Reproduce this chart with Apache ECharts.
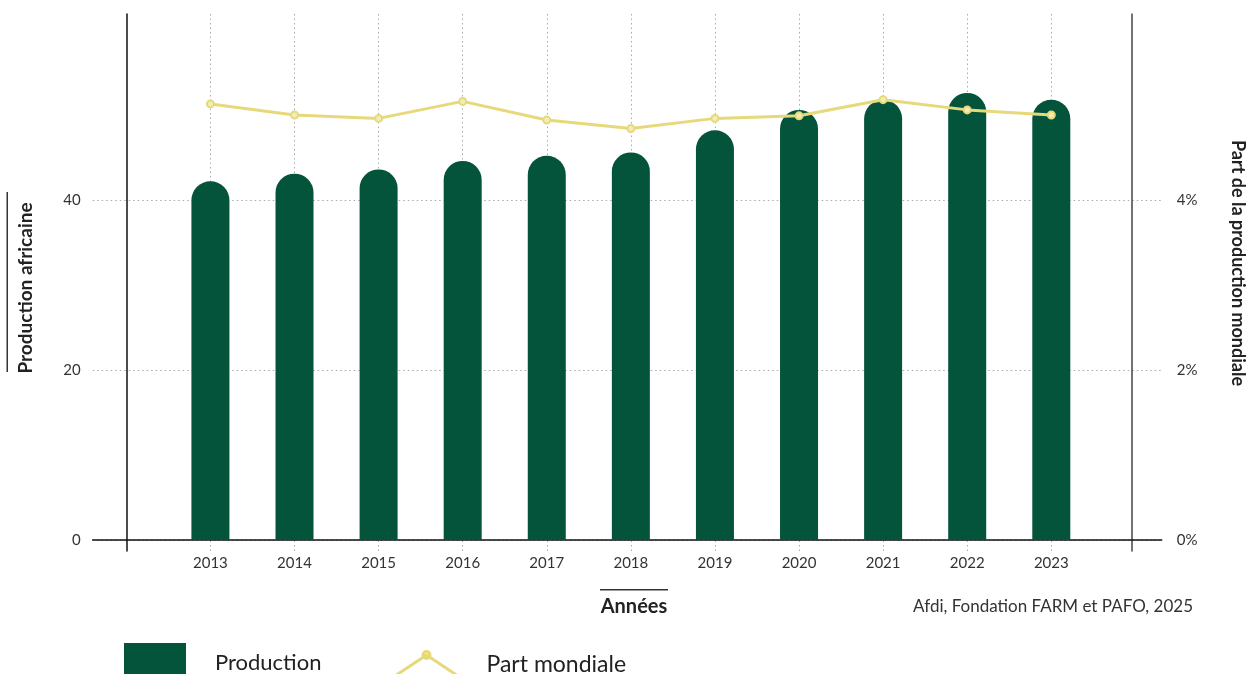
<!DOCTYPE html>
<html>
<head>
<meta charset="utf-8">
<script src="https://cdn.jsdelivr.net/npm/echarts@6/dist/echarts.min.js"></script>
<style>
html,body{margin:0;padding:0;background:#fff;}
#chart{width:1254px;height:674px;}
</style>
</head>
<body>
<div id="chart"></div>
<script>
// ---- data ----
const years = [2013, 2014, 2015, 2016, 2017, 2018, 2019, 2020, 2021, 2022, 2023];
const production = [42.2, 43.1, 43.6, 44.6, 45.2, 45.6, 48.2, 50.6, 51.8, 52.6, 51.8];
const worldShare = [5.13, 5.00, 4.96, 5.16, 4.94, 4.84, 4.96, 4.99, 5.18, 5.06, 5.00];
const leftTicks = [0, 20, 40];
const rightTicks = [0, 2, 4];

const GREEN = '#04533b';
const YELLOW = '#e6d97a';
const FONT = 'Lato';
const DOT = [1.5, 3];

const chart = echarts.init(document.getElementById('chart'), null, {renderer: 'canvas'});

const option = {
  animation: false,
  backgroundColor: '#ffffff',
  textStyle: {fontFamily: FONT},
  grid: {left: 92.7, right: 92.3, top: 14, bottom: 123, containLabel: false},
  xAxis: {
    type: 'value',
    min: 2011.6,
    max: 2024.313,
    axisLine: {show: true, onZero: true, lineStyle: {color: '#111', width: 1.5}},
    axisTick: {show: false, customValues: years},
    axisLabel: {customValues: years, formatter: v => String(v), color: '#333', fontSize: 15, fontFamily: FONT, margin: 5},
    splitLine: {show: true, lineStyle: {color: '#aaa', type: DOT, width: 1}}
  },
  yAxis: [
    {
      type: 'value',
      position: 'left',
      min: -1.294,
      max: 61.88,
      offset: -34,
      axisLine: {show: true, onZero: false, lineStyle: {color: '#111', width: 1.5}},
      axisTick: {show: false, customValues: leftTicks},
      axisLabel: {customValues: leftTicks, color: '#333', fontSize: 15, fontFamily: FONT, margin: 46},
      splitLine: {show: true, lineStyle: {color: '#aaa', type: DOT, width: 1}}
    },
    {
      type: 'value',
      position: 'right',
      min: -0.1294,
      max: 6.188,
      offset: -30,
      axisLine: {show: true, onZero: false, lineStyle: {color: '#444', width: 1.5}},
      axisTick: {show: false, customValues: rightTicks},
      axisLabel: {customValues: rightTicks, formatter: '{value}%', color: '#333', fontSize: 15, fontFamily: FONT, margin: 45},
      splitLine: {show: false}
    }
  ],
  legend: [
    {
      left: 124, top: 643, padding: 0,
      itemWidth: 62, itemHeight: 40,
      data: [{name: 'Production', icon: 'rect'}],
      textStyle: {fontSize: 22, color: '#222', fontFamily: FONT, padding: [0, 0, 0, 24]}
    },
    {
      left: 392, top: 650, padding: 0,
      itemWidth: 66, itemHeight: 26,
      data: [{
        name: 'Part mondiale',
        icon: 'path://M0,26 L33,4 L66,26 M36.5,4 A3.5,3.5 0 1,1 29.5,4 A3.5,3.5 0 1,1 36.5,4',
        itemStyle: {color: 'transparent', borderColor: YELLOW, borderWidth: 3}
      }],
      textStyle: {fontSize: 23, color: '#222', fontFamily: FONT, padding: [0, 0, 0, 22]}
    }
  ],
  series: [
    {
      name: 'Production',
      type: 'bar',
      yAxisIndex: 0,
      barWidth: 38,
      data: years.map((y, i) => [y, production[i]]),
      itemStyle: {color: GREEN, borderRadius: [19, 19, 0, 0]},
      z: 2
    },
    {
      name: 'Part mondiale',
      type: 'line',
      yAxisIndex: 1,
      data: years.map((y, i) => [y, worldShare[i]]),
      lineStyle: {color: YELLOW, width: 3},
      itemStyle: {color: '#f3ecb8', borderColor: YELLOW, borderWidth: 2},
      symbol: 'circle',
      symbolSize: 7,
      showSymbol: true,
      z: 3
    }
  ],
  graphic: [
    {type: 'rect', left: 6.5, top: 192, shape: {width: 1.5, height: 180}, style: {fill: '#333'}},
    {type: 'text', x: 26, y: 288, rotation: Math.PI / 2,
      style: {text: 'Production africaine', font: 'bold 19px Lato', fill: '#222', align: 'center', verticalAlign: 'middle'}},
    {type: 'text', x: 1238, y: 263, rotation: -Math.PI / 2,
      style: {text: 'Part de la production mondiale', font: 'bold 18px Lato', fill: '#222', align: 'center', verticalAlign: 'middle'}},
    {type: 'rect', left: 600, top: 589, shape: {width: 68, height: 1.5}, style: {fill: '#333'}},
    {type: 'text', x: 634, y: 607,
      style: {text: 'Années', font: 'bold 20px Lato', fill: '#222', align: 'center', verticalAlign: 'middle'}},
    {type: 'text', x: 1193, y: 607,
      style: {text: 'Afdi, Fondation FARM et PAFO, 2025', font: '17px Lato', fill: '#333', align: 'right', verticalAlign: 'middle'}}
  ]
};
chart.setOption(option);
</script>
</body>
</html>
